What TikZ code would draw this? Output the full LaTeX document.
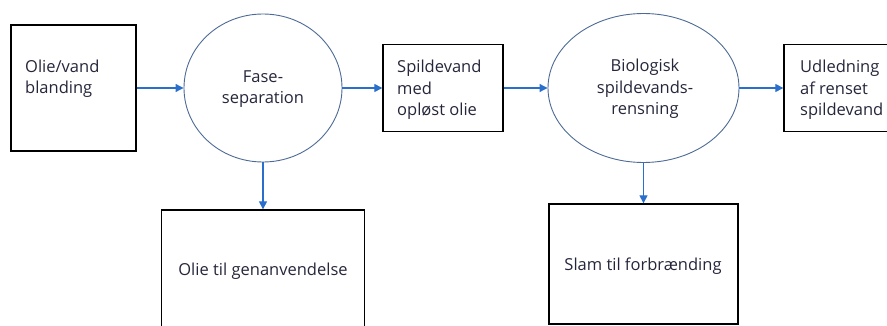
\documentclass[tikz,border=0pt]{standalone}
\usepackage{fontspec}
\setmainfont{Open Sans}
\usetikzlibrary{arrows.meta,shapes.geometric}
\definecolor{arrowblue}{HTML}{2B6FCC}
\definecolor{ringblue}{HTML}{4D6A96}
\definecolor{txt}{HTML}{25263A}
\begin{document}
\begin{tikzpicture}[x=1pt,y=-1pt,
  box/.style={draw=black, line width=1.3pt, rectangle, inner sep=0pt},
  proc/.style={ellipse, draw=ringblue, line width=0.9pt, inner sep=0pt},
  flow/.style={draw=arrowblue, line width=1.1pt, -{Triangle[length=8pt,width=8pt]}},
  lbl/.style={text=txt, inner sep=0pt, font=\fontsize{16.5}{21.5}\selectfont}]
\path[use as bounding box, clip] (0,0) rectangle (887,326);
% shapes
\node[box, minimum width=125pt, minimum height=126pt] (b1) at (73.5,88) {};
\node[proc, minimum width=158pt, minimum height=148pt] (c1) at (263,88) {};
\node[box, minimum width=120pt, minimum height=87pt] (b2) at (443,88) {};
\node[proc, minimum width=191pt, minimum height=149pt] (c2) at (643.5,88) {};
\node[box, minimum width=106pt, minimum height=87pt] (b3) at (837,88) {};
\node[box, minimum width=203pt, minimum height=120pt] (b4) at (263,270) {};
\node[box, minimum width=189pt, minimum height=120pt] (b5) at (643.5,264) {};
% texts (base anchor = baseline of last line)
\node[lbl, anchor=base west, align=left] (t1) at (25,94) {Olie/vand\\blanding};
\node[lbl, anchor=base, align=center] (t2) at (263,104) {Fase-\\separation};
\node[lbl, anchor=base west, align=left] (t3) at (397,116) {Spildevand\\med\\opløst olie};
\node[lbl, anchor=base, align=center] (t4) at (645,115) {Biologisk\\spildevands-\\rensning};
\node[lbl, anchor=base west, align=left] (t5) at (800,116) {Udledning\\af renset\\spildevand};
\node[lbl, anchor=base] (t6) at (263,276) {Olie til genanvendelse};
\node[lbl, anchor=base] (t7) at (643,270) {Slam til forbrænding};
% connectors
\draw[flow] (b1) -- (c1);
\draw[flow] (c1) -- (b2);
\draw[flow] (b2) -- (c2);
\draw[flow] (c2) -- (b3);
\draw[flow] (c1) -- (b4);
\draw[flow] (c2) -- (b5);
\end{tikzpicture}
\end{document}
